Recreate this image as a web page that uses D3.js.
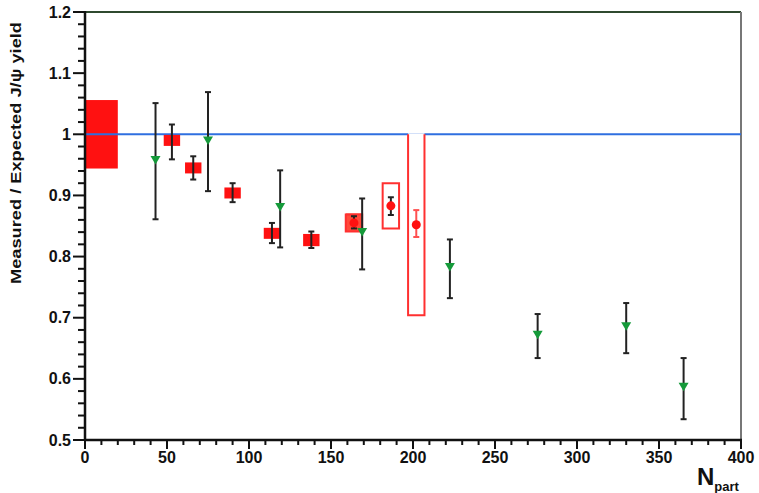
<!DOCTYPE html>
<html><head><meta charset="utf-8">
<script src="https://cdn.jsdelivr.net/npm/d3@7"></script>
<style>body{margin:0;background:#fff}svg{display:block}text{font-family:"Liberation Sans",Arial,sans-serif;font-weight:bold}</style>
</head><body><svg id="c" width="759" height="493"></svg>
<script>
// Green triangles (data set A)
const greenN    = [43, 75, 119, 169, 222.5, 276, 330, 365];
const greenVal  = [0.958, 0.990, 0.881, 0.840, 0.783, 0.672, 0.686, 0.587];
const greenHi   = [1.051, 1.069, 0.941, 0.895, 0.828, 0.706, 0.724, 0.634];
const greenLo   = [0.861, 0.907, 0.815, 0.779, 0.732, 0.634, 0.642, 0.534];
// Red points (data set B)
const redN      = [53, 66, 90, 114, 138, 164, 186.5, 202];
const redVal    = [0.990, 0.945, 0.904, 0.838, 0.827, 0.855, 0.883, 0.852];
const redHi     = [1.016, 0.964, 0.920, 0.855, 0.841, 0.866, 0.897, 0.876];
const redLo     = [0.959, 0.926, 0.889, 0.822, 0.814, 0.846, 0.868, 0.832];
const redSys    = [0.009, 0.009, 0.009, 0.009, 0.010, 0.014, 0.037, 0.148];
const redOpen   = [false, false, false, false, false, true, true, true];
const redBoxHalfN = 5;
// Global normalisation uncertainty box
const globalBox = {n0: 0, n1: 20, lo: 0.944, hi: 1.056};
const xTicks = [0, 50, 100, 150, 200, 250, 300, 350, 400];
const yTicks = [0.5, 0.6, 0.7, 0.8, 0.9, 1, 1.1, 1.2];
const yTickLabels = ["0.5", "0.6", "0.7", "0.8", "0.9", "1", "1.1", "1.2"];

const svg = d3.select("#c");
const x = d3.scaleLinear().domain([0, 400]).range([85, 741]);
const y = d3.scaleLinear().domain([0.5, 1.2]).range([440, 12]);

// frame top and right
svg.append("line").attr("x1", x(0)).attr("x2", x(400)).attr("y1", y(1.2)).attr("y2", y(1.2))
  .attr("stroke", "#2f4a2f").attr("stroke-width", 2);
svg.append("line").attr("x1", x(400)).attr("x2", x(400)).attr("y1", y(1.2)).attr("y2", y(0.5))
  .attr("stroke", "#777").attr("stroke-width", 2);

// global box
svg.append("rect").attr("x", x(globalBox.n0)).attr("width", x(globalBox.n1) - x(globalBox.n0))
  .attr("y", y(globalBox.hi)).attr("height", y(globalBox.lo) - y(globalBox.hi)).attr("fill", "#ff1111");

// unity line
svg.append("line").attr("x1", x(0)).attr("x2", x(400)).attr("y1", y(1)).attr("y2", y(1))
  .attr("stroke", "#2f6fe0").attr("stroke-width", 2);

// red systematic boxes
redN.forEach((n, i) => {
  const x0 = x(n - redBoxHalfN), x1 = x(n + redBoxHalfN);
  const yt = y(redVal[i] + redSys[i]), yb = y(redVal[i] - redSys[i]);
  if (redOpen[i]) {
    svg.append("rect").attr("x", x0).attr("y", yt - 1).attr("width", x1 - x0).attr("height", yb - yt + 1)
      .attr("fill", i === 5 ? "#ff4a3a" : "#fff");
    svg.append("path").attr("d", `M${x0},${yt}V${yb}H${x1}V${yt}` + (redSys[i] < 0.1 ? "Z" : ""))
      .attr("fill", "none").attr("stroke", "#ff3030").attr("stroke-width", 2);
  } else {
    svg.append("rect").attr("x", x0).attr("y", yt).attr("width", x1 - x0).attr("height", yb - yt)
      .attr("fill", "#ff1111");
  }
});

function errbar(n, lo, hi, col) {
  const cx = x(n);
  svg.append("line").attr("x1", cx).attr("x2", cx).attr("y1", y(hi)).attr("y2", y(lo))
    .attr("stroke", col).attr("stroke-width", 2);
  [hi, lo].forEach(v => svg.append("line").attr("x1", cx - 3).attr("x2", cx + 3)
    .attr("y1", y(v)).attr("y2", y(v)).attr("stroke", col).attr("stroke-width", 2));
}

// red error bars and markers
redN.forEach((n, i) => {
  errbar(n, redLo[i], redHi[i], i === 7 ? "#ff5050" : "#222");
  if (redOpen[i]) {
    svg.append("circle").attr("cx", x(n)).attr("cy", y(redVal[i])).attr("r", 4.5).attr("fill", "#ff1111");
  }
});

// green error bars and triangles
greenN.forEach((n, i) => {
  errbar(n, greenLo[i], greenHi[i], "#222");
  const cx = x(n), cy = y(greenVal[i]);
  svg.append("path").attr("d", `M${cx - 5},${cy - 4}L${cx + 5},${cy - 4}L${cx},${cy + 4.5}Z`)
    .attr("fill", "#159a3a");
});

// axes
const xAxis = svg.append("g").attr("transform", `translate(0,${y(0.5)})`);
xAxis.append("line").attr("x1", x(0) - 1).attr("x2", x(400) + 1).attr("stroke", "#111").attr("stroke-width", 2.5);
d3.range(0, 401, 10).forEach(v => {
  const major = v % 50 === 0;
  xAxis.append("line").attr("x1", x(v)).attr("x2", x(v)).attr("y1", 0).attr("y2", major ? 9 : 5)
    .attr("stroke", "#111").attr("stroke-width", 2);
});
xTicks.forEach(v => xAxis.append("text").attr("x", x(v)).attr("y", 23).attr("text-anchor", "middle")
  .attr("font-size", 16).attr("fill", "#111").text(v));

const yAxis = svg.append("g").attr("transform", `translate(${x(0)},0)`);
yAxis.append("line").attr("y1", y(1.2) - 1).attr("y2", y(0.5) + 1).attr("stroke", "#111").attr("stroke-width", 2.5);
d3.range(50, 121, 2).forEach(k => {
  const v = k / 100, major = k % 10 === 0;
  yAxis.append("line").attr("x1", 0).attr("x2", major ? -12 : -7).attr("y1", y(v)).attr("y2", y(v))
    .attr("stroke", "#111").attr("stroke-width", 2);
});
yTicks.forEach((v, i) => yAxis.append("text").attr("x", -14).attr("y", y(v) + 5.5).attr("text-anchor", "end")
  .attr("font-size", 16).attr("fill", "#111").text(yTickLabels[i]));

// titles
svg.append("text").attr("transform", "translate(21,153) rotate(-90)").attr("text-anchor", "middle")
  .attr("font-size", 15.5).attr("fill", "#111").attr("textLength", 262).attr("lengthAdjust", "spacingAndGlyphs")
  .text("Measured / Expected J/\u03C8 yield");
const nt = svg.append("text").attr("x", 697).attr("y", 485).attr("fill", "#111");
nt.append("tspan").attr("font-size", 24).text("N");
nt.append("tspan").attr("font-size", 13).attr("dy", 6).text("part");
</script></body></html>
